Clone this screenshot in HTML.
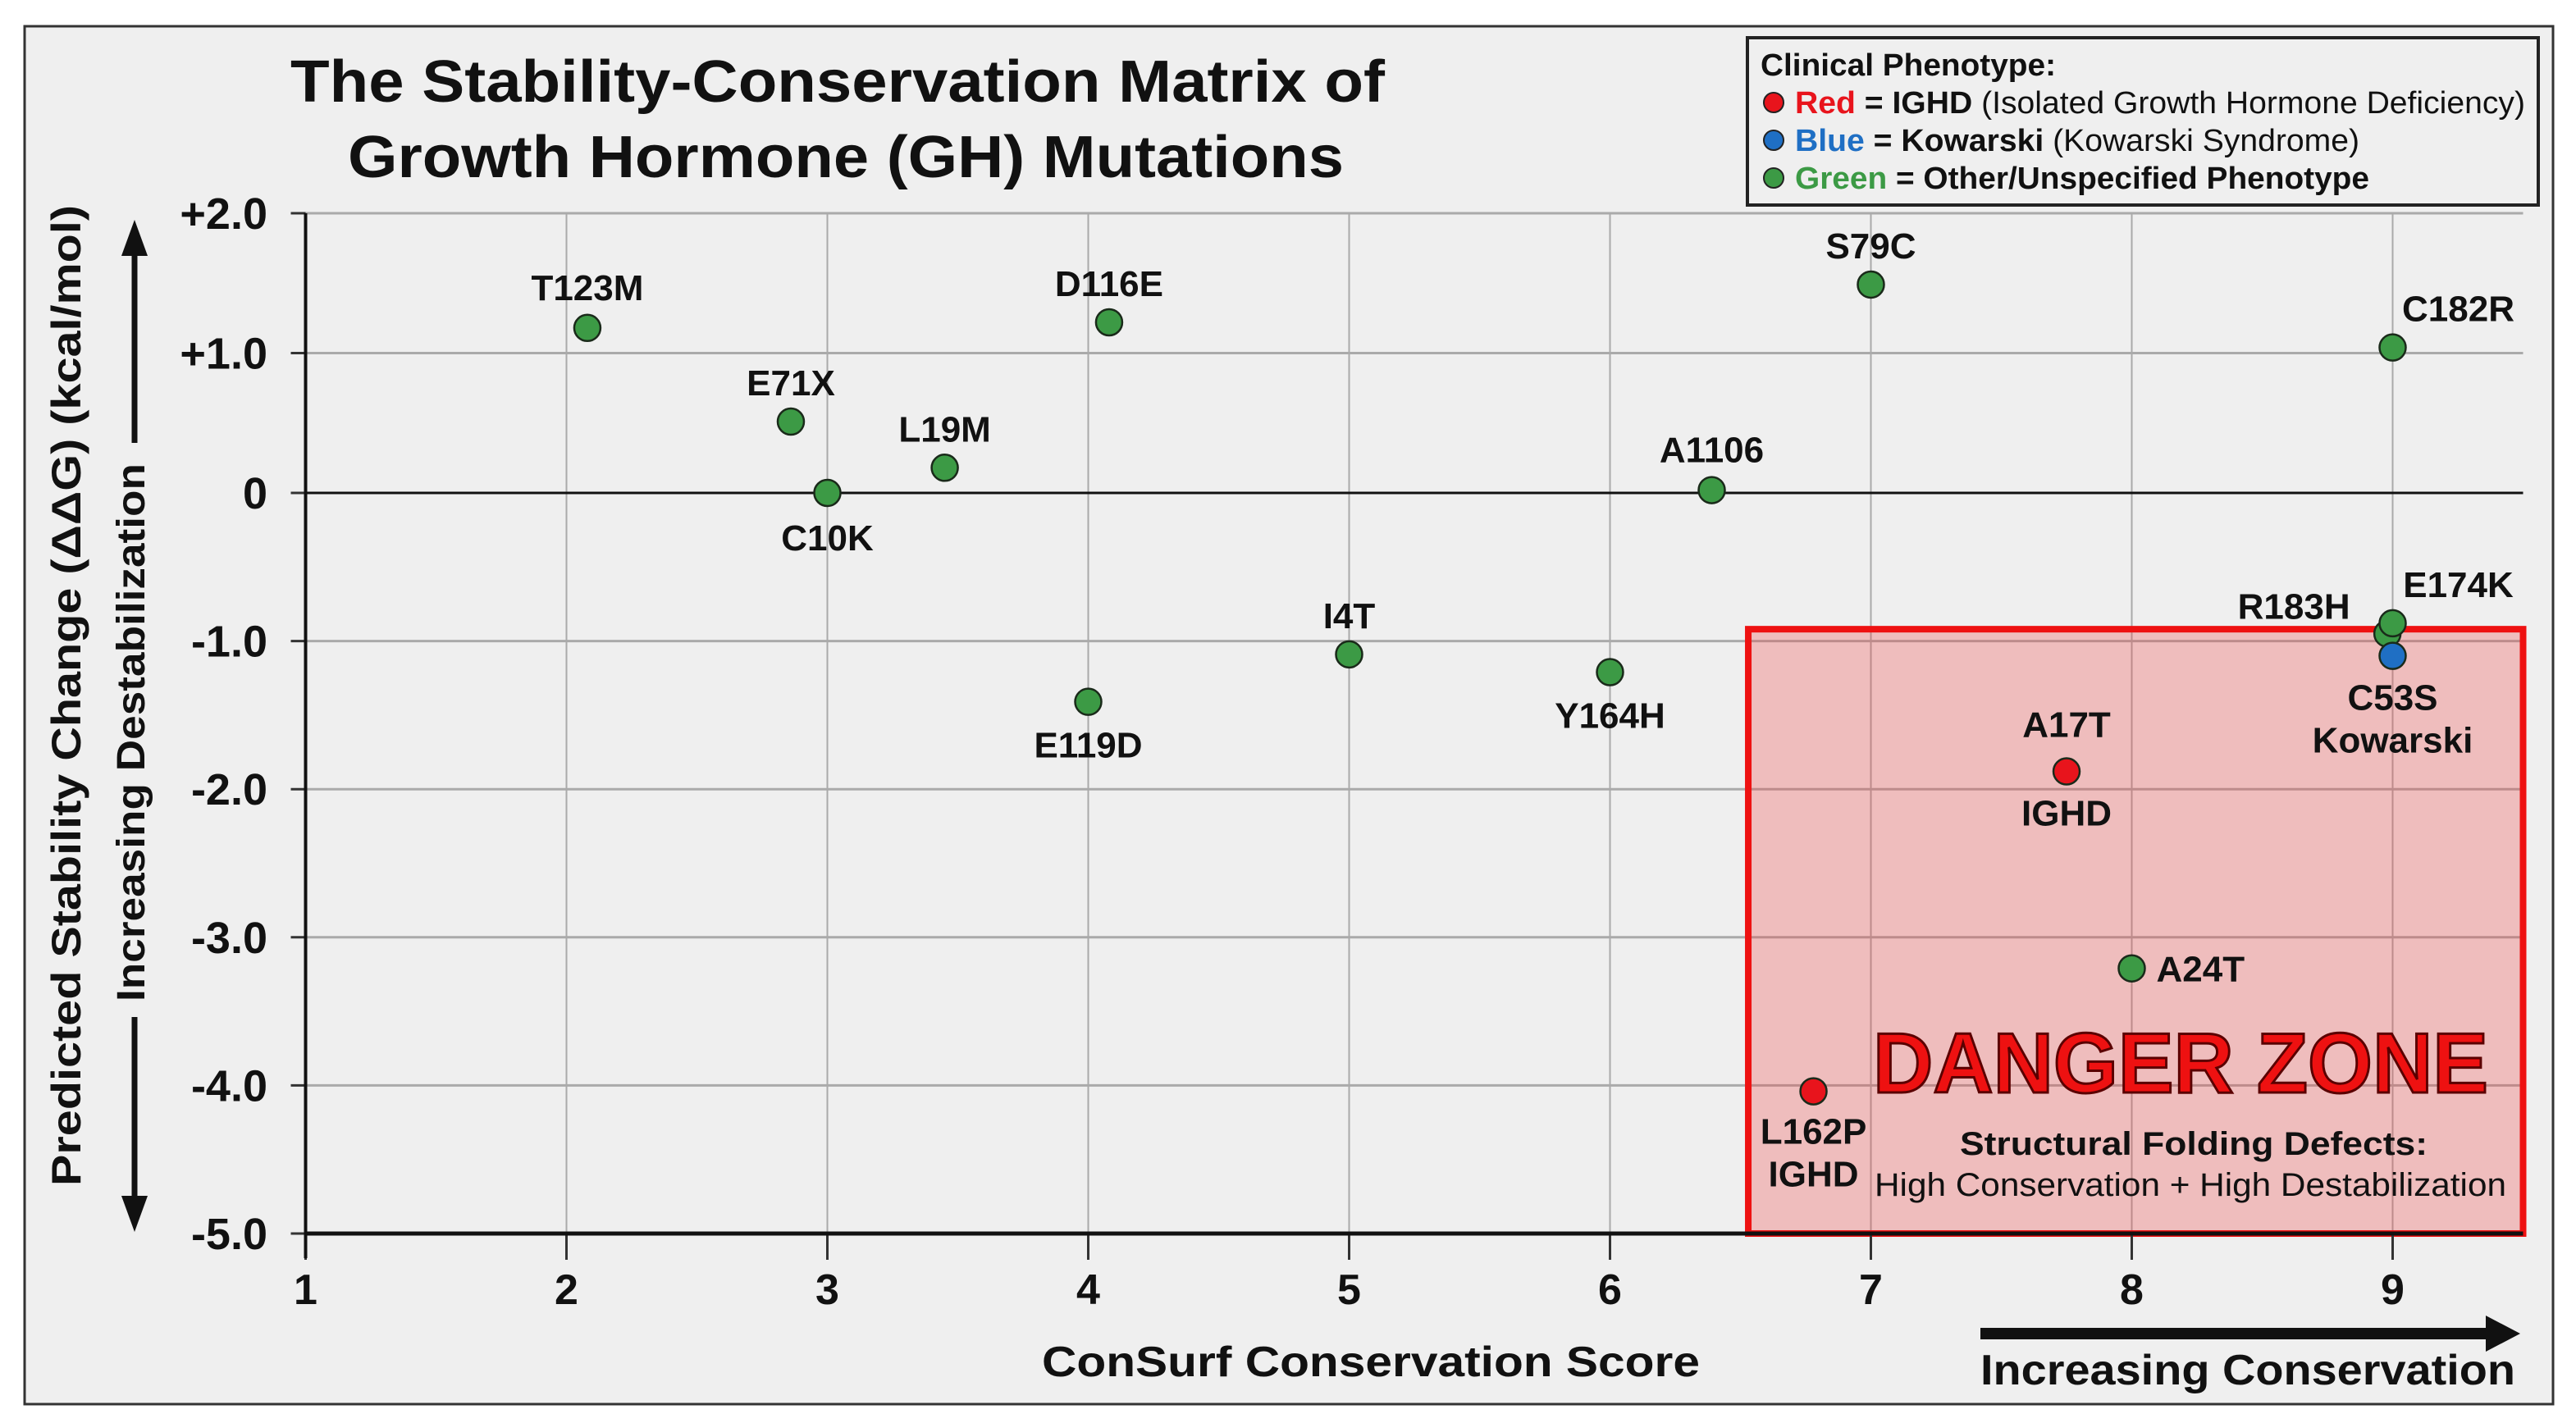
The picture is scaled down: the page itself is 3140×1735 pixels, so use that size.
<!DOCTYPE html>
<html><head><meta charset="utf-8">
<style>
html,body{margin:0;padding:0;background:#fff;}
svg{display:block;font-family:"Liberation Sans",Arial,sans-serif;}
</style></head>
<body>
<svg id="chart" width="3140" height="1735" viewBox="0 0 3140 1735">
  <rect x="30" y="32" width="3082" height="1680" fill="#efefef" stroke="#333" stroke-width="3"/>
  <text x="1021" y="124" text-anchor="middle" font-size="72" font-weight="bold" fill="#111" textLength="1334" lengthAdjust="spacingAndGlyphs">The Stability-Conservation Matrix of</text>
  <text x="1031" y="216" text-anchor="middle" font-size="72" font-weight="bold" fill="#111" textLength="1214" lengthAdjust="spacingAndGlyphs">Growth Hormone (GH) Mutations</text>
  <g id="grid"></g>
  <g id="zone"></g>
  <g id="axes"></g>
  <g id="points"></g>

  <text transform="translate(98,848) rotate(-90)" text-anchor="middle" font-size="50" font-weight="bold" fill="#111" textLength="1196" lengthAdjust="spacingAndGlyphs">Predicted Stability Change (ΔΔG) (kcal/mol)</text>
  <text transform="translate(176,893) rotate(-90)" text-anchor="middle" font-size="48" font-weight="bold" fill="#111" textLength="656" lengthAdjust="spacingAndGlyphs">Increasing Destabilization</text>
  <g>
    <line x1="164" y1="540" x2="164" y2="310" stroke="#111" stroke-width="7"/>
    <polygon points="164,268 148,312 180,312" fill="#111"/>
    <line x1="164" y1="1240" x2="164" y2="1460" stroke="#111" stroke-width="7"/>
    <polygon points="164,1502 148,1458 180,1458" fill="#111"/>
  </g>

  <text x="1671" y="1678" text-anchor="middle" font-size="52" font-weight="bold" fill="#111" textLength="802" lengthAdjust="spacingAndGlyphs">ConSurf Conservation Score</text>
  <text x="2740" y="1688" text-anchor="middle" font-size="52" font-weight="bold" fill="#111" textLength="652" lengthAdjust="spacingAndGlyphs">Increasing Conservation</text>
  <g>
    <line x1="2414" y1="1626" x2="3036" y2="1626" stroke="#111" stroke-width="14"/>
    <polygon points="3072,1626 3030,1604 3030,1648" fill="#111"/>
  </g>

  <g>
    <rect x="2130" y="46" width="964" height="204" fill="#efefef" stroke="#222" stroke-width="4"/>
    <text x="2146" y="92" font-size="38" font-weight="bold" fill="#111" textLength="360" lengthAdjust="spacingAndGlyphs">Clinical Phenotype:</text>
    <g>
      <circle cx="2162" cy="125" r="12" fill="#e8141c" stroke="#222" stroke-width="2"/>
      <text x="2188" y="138" font-size="38" fill="#111" textLength="890" lengthAdjust="spacingAndGlyphs"><tspan fill="#e8141c" font-weight="bold">Red</tspan><tspan font-weight="bold"> = IGHD</tspan> (Isolated Growth Hormone Deficiency)</text>
    </g>
    <g>
      <circle cx="2162" cy="171" r="12" fill="#1f6fc4" stroke="#222" stroke-width="2"/>
      <text x="2188" y="184" font-size="38" fill="#111" textLength="688" lengthAdjust="spacingAndGlyphs"><tspan fill="#1f6fc4" font-weight="bold">Blue</tspan><tspan font-weight="bold"> = Kowarski</tspan> (Kowarski Syndrome)</text>
    </g>
    <g>
      <circle cx="2162" cy="217" r="12" fill="#3c9a45" stroke="#222" stroke-width="2"/>
      <text x="2188" y="230" font-size="38" font-weight="bold" fill="#111" textLength="700" lengthAdjust="spacingAndGlyphs"><tspan fill="#3c9a45">Green</tspan> = Other/Unspecified Phenotype</text>
    </g>
  </g>
</svg>
<script>
const mutations = ["T123M","E71X","C10K","L19M","D116E","E119D","I4T","Y164H","A1106","S79C","C182R","R183H","E174K","C53S","A17T","A24T","L162P"];
const conservation = [2.08,2.86,3.0,3.45,4.08,4.0,5.0,6.0,6.39,7.0,9.0,8.98,9.0,9.0,7.75,8.0,6.78];
const ddG = [1.18,0.51,0.0,0.18,1.22,-1.41,-1.09,-1.21,0.02,1.49,1.04,-0.95,-0.88,-1.1,-1.88,-3.21,-4.04];
const phenotype = ["green","green","green","green","green","green","green","green","green","green","green","green","green","blue","red","green","red"];
const xTicks = [1,2,3,4,5,6,7,8,9];
const yTicks = [2,1,0,-1,-2,-3,-4,-5];
const yTickLabels = ["+2.0","+1.0","0","-1.0","-2.0","-3.0","-4.0","-5.0"];
const dangerX = [6.53,9.5];
const dangerY = [-0.92,-5];

const labelLayout = {
  "T123M":[[0,-34,"middle",""]],"E71X":[[0,-32,"middle",""]],"C10K":[[0,70,"middle",""]],
  "L19M":[[0,-32,"middle",""]],"D116E":[[0,-32,"middle",""]],"E119D":[[0,68,"middle",""]],
  "I4T":[[0,-32,"middle",""]],"Y164H":[[0,68,"middle",""]],"A1106":[[0,-34,"middle",""]],
  "S79C":[[0,-32,"middle",""]],"C182R":[[80,-32,"middle",""]],"R183H":[[-114,-18,"middle",""]],
  "E174K":[[80,-32,"middle",""]],"C53S":[[0,66,"middle",""],[0,118,"middle","Kowarski"]],
  "A17T":[[0,-42,"middle",""],[0,66,"middle","IGHD"]],"A24T":[[30,16,"start",""]],
  "L162P":[[0,64,"middle",""],[0,116,"middle","IGHD"]]
};
const colors = {green:"#3c9a45",blue:"#1f6fc4",red:"#e8141c"};

const X0=372.5, XU=318, Y0=601, YUP=170.5, YDN=180.6;
function xs(v){return X0+(v-1)*XU;}
function ys(v){return v>=0 ? Y0-v*YUP : Y0-v*YDN;}
const NS="http://www.w3.org/2000/svg";
function mk(tag,attrs,parent){const e=document.createElementNS(NS,tag);for(const k in attrs)e.setAttribute(k,attrs[k]);parent.appendChild(e);return e;}

const grid=document.getElementById('grid'), axes=document.getElementById('axes'), pts=document.getElementById('points'), zone=document.getElementById('zone');
const xRight=xs(9.5);
xTicks.forEach(t=>{
  if(t>1){const l=mk('line',{x1:xs(t),x2:xs(t),y1:ys(2),y2:ys(-5),stroke:'#aaa','stroke-width':2},grid);
  
  }
  const tk=mk('line',{x1:xs(t),x2:xs(t),y1:ys(-5),y2:ys(-5)+32,stroke:'#333','stroke-width':3},axes);
  
  
  const tl=mk('text',{x:xs(t),y:1590,'text-anchor':'middle','font-size':52,'font-weight':'bold',fill:'#111'},axes);
  tl.textContent=t;
  
  
});
yTicks.forEach((t,i)=>{
  if(t!==0 && t!==-5){const l=mk('line',{x1:xs(1),x2:xRight,y1:ys(t),y2:ys(t),stroke:'#aaa','stroke-width':3},grid);
  
  }
  const tk=mk('line',{x1:xs(1)-18,x2:xs(1),y1:ys(t),y2:ys(t),stroke:'#333','stroke-width':3},axes);
  
  
  const tl=mk('text',{x:326,y:ys(t)+19,'text-anchor':'end','font-size':54,'font-weight':'bold',fill:'#111'},axes);
  tl.textContent=yTickLabels[i];
  
  
});
const zr=mk('rect',{x:xs(dangerX[0]),y:ys(dangerY[0]),width:xs(dangerX[1])-xs(dangerX[0]),height:ys(dangerY[1])-ys(dangerY[0]),fill:'rgba(240,60,60,0.28)',stroke:'#ee1111','stroke-width':8},zone);


const zt=mk('text',{x:2658,y:1332,'text-anchor':'middle','font-size':104,'font-weight':'bold',fill:'#ee1111',stroke:'#5a0000','stroke-width':3,textLength:750,lengthAdjust:'spacingAndGlyphs'},zone);
zt.textContent='DANGER ZONE';


const zs=mk('text',{x:2674,y:1408,'text-anchor':'middle','font-size':40,'font-weight':'bold',fill:'#111',textLength:570,lengthAdjust:'spacingAndGlyphs'},zone);
zs.textContent='Structural Folding Defects:';


const zd=mk('text',{x:2670,y:1458,'text-anchor':'middle','font-size':40,fill:'#111',textLength:770,lengthAdjust:'spacingAndGlyphs'},zone);
zd.textContent='High Conservation + High Destabilization';



const za=mk('line',{x1:xs(1),x2:xRight,y1:ys(0),y2:ys(0),stroke:'#111','stroke-width':3},axes);


const xa=mk('line',{x1:xs(1),x2:xRight,y1:ys(-5),y2:ys(-5),stroke:'#111','stroke-width':5},axes);


const ya=mk('line',{x1:xs(1),x2:xs(1),y1:ys(2),y2:ys(-5)+30,stroke:'#111','stroke-width':4},axes);



mutations.forEach((m,i)=>{
  const cx=xs(conservation[i]), cy=ys(ddG[i]);
  const c=mk('circle',{cx:cx,cy:cy,r:16,fill:colors[phenotype[i]],stroke:'#1a2a1a','stroke-width':2.5},pts);
  
  
  (labelLayout[m]||[]).forEach(L=>{
    const t=mk('text',{x:cx+L[0],y:cy+L[1],'text-anchor':L[2],'font-size':44,'font-weight':'bold',fill:'#111'},pts);
    t.textContent=L[3]||m;
    
    
  });
});
</script>
</body></html>
